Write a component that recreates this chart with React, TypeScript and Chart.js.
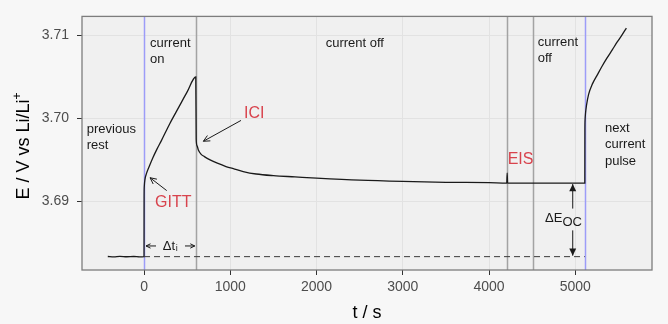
import React, { useEffect, useRef } from "react";
import { Chart, registerables } from "chart.js";

Chart.register(...registerables);

// ---- data ----
const timeSeconds = [
  -420, -350, -280, -200, -120, -50, 0, 1, 3, 10, 30, 60, 100, 150, 200, 300, 400, 500, 600,
  605, 615, 630, 660, 700, 766, 850, 950, 1050, 1150, 1300, 1500, 1750, 2000, 2500, 3000,
  3500, 4000, 4205, 4210, 4215, 4600, 5000, 5110, 5111, 5113, 5118, 5130, 5154, 5200, 5252,
  5310, 5368, 5430, 5484, 5540, 5592,
];
const potentialVolts = [
  3.68335, 3.6833, 3.68336, 3.68332, 3.68335, 3.68331, 3.68333, 3.6905, 3.6918, 3.6926,
  3.6934, 3.6942, 3.6952, 3.6963, 3.6973, 3.6994, 3.7013, 3.7032, 3.705,
  3.6975, 3.6967, 3.6962, 3.6957, 3.6954, 3.695, 3.6946, 3.6942, 3.6939, 3.6936, 3.6933,
  3.6931, 3.69295, 3.6928, 3.69255, 3.6924,
  3.6923, 3.69225, 3.6922, 3.6934, 3.6922, 3.6922, 3.6922, 3.6922, 3.6985, 3.6998, 3.7006,
  3.7016, 3.7029, 3.7042, 3.7052,
  3.7063, 3.7073, 3.7083, 3.7092, 3.71005, 3.7109,
];
const xTickValues = [0, 1000, 2000, 3000, 4000, 5000];
const yTickValues = [3.69, 3.7, 3.71];
const currentOnTimes = [0, 5110];
const phaseBoundaryTimes = [600, 4212, 4510];
const baselinePotential = 3.68333;
const ocPotential = 3.6922;
const pulseStart = 0;
const pulseEnd = 600;
const restEnd = 5110;

const FONT = "'Liberation Sans', Arial, Helvetica, sans-serif";
const RED = "#d8434d";

function arrowHead(ctx: CanvasRenderingContext2D, x0: number, y0: number, x1: number, y1: number, len: number, filled: boolean) {
  const a = Math.atan2(y1 - y0, x1 - x0);
  const sp = Math.PI / 7;
  const ax = x1 - len * Math.cos(a - sp);
  const ay = y1 - len * Math.sin(a - sp);
  const bx = x1 - len * Math.cos(a + sp);
  const by = y1 - len * Math.sin(a + sp);
  ctx.beginPath();
  if (filled) {
    ctx.moveTo(x1, y1);
    ctx.lineTo(ax, ay);
    ctx.lineTo(bx, by);
    ctx.closePath();
    ctx.fill();
  } else {
    ctx.moveTo(ax, ay);
    ctx.lineTo(x1, y1);
    ctx.lineTo(bx, by);
    ctx.stroke();
  }
}

function arrow(ctx: CanvasRenderingContext2D, x0: number, y0: number, x1: number, y1: number, len: number, filled: boolean) {
  ctx.beginPath();
  ctx.moveTo(x0, y0);
  ctx.lineTo(x1, y1);
  ctx.stroke();
  arrowHead(ctx, x0, y0, x1, y1, len, filled);
}

const backgroundPlugin = {
  id: "panelBackground",
  beforeDraw(chart: any) {
    const { ctx, chartArea, width, height } = chart;
    ctx.save();
    ctx.fillStyle = "#f7f7f7";
    ctx.fillRect(0, 0, width, height);
    ctx.fillStyle = "#f0f0f0";
    ctx.fillRect(chartArea.left, chartArea.top, chartArea.right - chartArea.left, chartArea.bottom - chartArea.top);
    ctx.restore();
  },
  beforeDatasetsDraw(chart: any) {
    const { ctx, chartArea, scales } = chart;
    const xs = scales.x;
    ctx.save();
    ctx.lineWidth = 1.5;
    ctx.strokeStyle = "#a3a3a3";
    phaseBoundaryTimes.forEach((t) => {
      const px = Math.round(xs.getPixelForValue(t)) + 0.5;
      ctx.beginPath();
      ctx.moveTo(px, chartArea.top);
      ctx.lineTo(px, chartArea.bottom);
      ctx.stroke();
    });
    ctx.strokeStyle = "#9c9cf8";
    currentOnTimes.forEach((t) => {
      const px = Math.round(xs.getPixelForValue(t)) + 0.5;
      ctx.beginPath();
      ctx.moveTo(px, chartArea.top);
      ctx.lineTo(px, chartArea.bottom);
      ctx.stroke();
    });
    ctx.restore();
  },
  afterDraw(chart: any) {
    const { ctx, chartArea, scales } = chart;
    const X = (t: number) => scales.x.getPixelForValue(t);
    const Y = (v: number) => scales.y.getPixelForValue(v);
    ctx.save();

    // panel border
    ctx.strokeStyle = "#7d7d7d";
    ctx.lineWidth = 1.3;
    ctx.strokeRect(chartArea.left, chartArea.top, chartArea.right - chartArea.left, chartArea.bottom - chartArea.top);

    // black phase labels
    ctx.fillStyle = "#1a1a1a";
    ctx.font = `13px ${FONT}`;
    ctx.textAlign = "left";
    ctx.textBaseline = "middle";
    const lines = (arr: string[], t: number, v: number) => {
      arr.forEach((s, i) => ctx.fillText(s, X(t), Y(v) + i * 16.5));
    };
    lines(["current", "on"], 70, 3.7091);
    lines(["previous", "rest"], -664, 3.69869);
    lines(["current off"], 2106, 3.7091);
    lines(["current", "off"], 4564, 3.7092);
    lines(["next", "current", "pulse"], 5344, 3.69881);

    // red method labels
    ctx.fillStyle = RED;
    ctx.font = `16px ${FONT}`;
    ctx.fillText("GITT", X(128), Y(3.68988));
    ctx.fillText("ICI", X(1159), Y(3.70063));
    ctx.fillText("EIS", X(4216), Y(3.69498));

    // pointer arrows
    ctx.strokeStyle = "#1a1a1a";
    ctx.fillStyle = "#1a1a1a";
    ctx.lineWidth = 1;
    arrow(ctx, X(263), Y(3.6913), X(70), Y(3.69285), 7, false);
    arrow(ctx, X(1124), Y(3.69976), X(688), Y(3.69725), 7, false);

    // Δt_i
    const dtY = Y(3.68462);
    arrow(ctx, X(139), dtY, X(pulseStart) + 2, dtY, 5, false);
    arrow(ctx, X(475), dtY, X(pulseEnd) - 1, dtY, 5, false);
    ctx.font = `13px ${FONT}`;
    ctx.textAlign = "left";
    const dtLabel = "\u0394t";
    const dw = ctx.measureText(dtLabel).width;
    ctx.font = `9px ${FONT}`;
    const iw = ctx.measureText("i").width;
    const dx0 = X(301) - (dw + iw) / 2;
    ctx.font = `13px ${FONT}`;
    ctx.fillText(dtLabel, dx0, dtY);
    ctx.font = `9px ${FONT}`;
    ctx.fillText("i", dx0 + dw + 0.5, dtY + 3);

    // ΔE_OC
    const ex = X(4970);
    arrow(ctx, ex, Y(3.68913), ex, Y(ocPotential) + 1, 8, true);
    arrow(ctx, ex, Y(3.6865), ex, Y(baselinePotential) - 1, 8, true);
    ctx.textAlign = "left";
    ctx.font = `13px ${FONT}`;
    const tx = X(4649);
    const ty = Y(3.6879);
    ctx.fillText("\u0394E", tx, ty);
    const w = ctx.measureText("\u0394E").width;
    ctx.fillText("OC", tx + w, ty + 3.5);

    // axis titles
    ctx.fillStyle = "#000";
    ctx.font = `18px ${FONT}`;
    ctx.textAlign = "center";
    ctx.textBaseline = "middle";
    ctx.fillText("t / s", (chartArea.left + chartArea.right) / 2, 313);

    ctx.translate(24, 146);
    ctx.rotate(-Math.PI / 2);
    const main = "E / V vs Li/Li";
    ctx.font = `18px ${FONT}`;
    const mw = ctx.measureText(main).width;
    ctx.font = `12px ${FONT}`;
    const sw = ctx.measureText("+").width;
    const total = mw + sw;
    ctx.textAlign = "left";
    ctx.font = `18px ${FONT}`;
    ctx.fillText(main, -total / 2, 0);
    ctx.font = `12px ${FONT}`;
    ctx.fillText("+", -total / 2 + mw, -6);
    ctx.restore();
  },
};

export default function App() {
  const ref = useRef<HTMLCanvasElement | null>(null);

  useEffect(() => {
    document.body.style.margin = "0";
    document.body.style.background = "#f7f7f7";
    const canvas = ref.current;
    if (!canvas) return;
    const points = timeSeconds.map((t, i) => ({ x: t, y: potentialVolts[i] }));
    const baseline = [
      { x: pulseStart, y: baselinePotential },
      { x: restEnd, y: baselinePotential },
    ];
    const chart = new Chart(canvas, {
      type: "line",
      data: {
        datasets: [
          {
            data: baseline,
            borderColor: "#3a3a3a",
            borderWidth: 1,
            borderDash: [6, 4],
            pointRadius: 0,
            tension: 0,
          },
          {
            data: points,
            borderColor: "#1a1a1a",
            borderWidth: 1.3,
            pointRadius: 0,
            cubicInterpolationMode: "monotone",
          },
        ],
      },
      options: {
        responsive: false,
        devicePixelRatio: 1,
        animation: false,
        events: [],
        layout: { padding: { left: 0, right: 16, top: 14, bottom: 0 } },
        plugins: { legend: { display: false }, tooltip: { enabled: false } },
        scales: {
          x: {
            type: "linear",
            min: -719,
            max: 5889,
            afterBuildTicks: (s: any) => {
              s.ticks = xTickValues.map((v) => ({ value: v }));
            },
            afterFit: (s: any) => {
              s.height = 54;
            },
            ticks: {
              callback: (v: any) => String(v),
              color: "#4d4d4d",
              font: { family: FONT, size: 14 },
              padding: 4,
              maxRotation: 0,
              autoSkip: false,
            },
            grid: { color: "#e2e2e2", lineWidth: 1, tickColor: "#333", tickLength: 5, drawTicks: true },
            border: { display: false },
          },
          y: {
            type: "linear",
            min: 3.68172,
            max: 3.71231,
            afterBuildTicks: (s: any) => {
              s.ticks = yTickValues.map((v) => ({ value: v }));
            },
            afterFit: (s: any) => {
              s.width = 82;
            },
            ticks: {
              callback: (v: any) => Number(v).toFixed(2),
              color: "#4d4d4d",
              font: { family: FONT, size: 14 },
              padding: 8,
              autoSkip: false,
            },
            grid: { color: "#e2e2e2", lineWidth: 1, tickColor: "#333", tickLength: 5, drawTicks: true },
            border: { display: false },
          },
        },
      },
      plugins: [backgroundPlugin],
    } as any);
    return () => chart.destroy();
  }, []);

  return (
    <div style={{ width: 668, height: 324 }}>
      <canvas ref={ref} width={668} height={324} style={{ display: "block" }} />
    </div>
  );
}
